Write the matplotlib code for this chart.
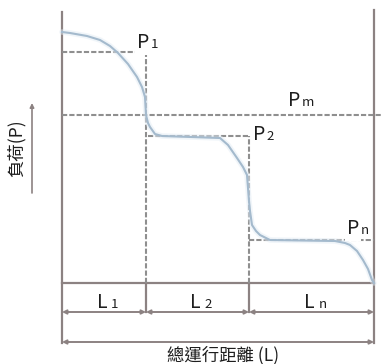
import numpy as np
import matplotlib.pyplot as plt

plt.rcParams['font.family'] = ['Noto Sans CJK TC', 'DejaVu Sans']

# boundaries of the travel segments along the total distance
edges = [0, 84, 187, 312]
seg_labels = [('L', '1'), ('L', '2'), ('L', 'n')]

# step loads of each segment and the mean load
loads = [231, 147, 43]
load_labels = [('P', '1'), ('P', '2'), ('P', 'n')]
p_mean = 168

curve_x = [0, 8, 25, 38, 48, 56, 66, 75, 80, 83, 84, 86, 88, 93, 100,
           158, 166, 175, 181, 185, 186, 187, 188, 190, 194, 198, 208,
           273, 283, 288, 295, 301, 306, 310, 312]
curve_y = [251, 250, 247, 243, 237, 230, 219, 206, 196, 186, 168, 160, 156, 149, 147,
           145, 138, 125, 116, 108, 95, 82, 72, 58, 52, 48, 43,
           42, 40, 38, 32, 23, 14, 3, 0]

line_col = '#8c8282'
dash_col = '#8f8f8f'
curve_col = '#a4bacd'
text_col = '#1e1e1e'

fig = plt.figure(figsize=(3.81, 3.64), dpi=100)
ax = fig.add_axes([0, 0, 1, 1])
ax.set_xlim(-62, 319)
ax.set_ylim(-81, 283)
ax.axis('off')

top = 271
dim1 = -29
dim2 = -59

# frame lines
ax.plot([edges[0], edges[0]], [dim2 - 1, top], color=line_col, lw=1.6)
ax.plot([edges[-1], edges[-1]], [dim2 - 1, top + 2], color=line_col, lw=1.6)
ax.plot([edges[0], edges[-1]], [0, 0], color=line_col, lw=1.6)
for e in edges[1:-1]:
    ax.plot([e, e], [0, dim1], color=line_col, lw=1.6)

# dimension arrows
for a, b in zip(edges[:-1], edges[1:]):
    ax.annotate('', xy=(b, dim1), xytext=(a, dim1),
                arrowprops=dict(arrowstyle='<|-|>', color=line_col, lw=1.4,
                                mutation_scale=6, shrinkA=0, shrinkB=0))
ax.annotate('', xy=(edges[-1], dim2), xytext=(edges[0], dim2),
            arrowprops=dict(arrowstyle='<|-|>', color=line_col, lw=1.4,
                            mutation_scale=6, shrinkA=0, shrinkB=0))

# dashed step loads
dash = dict(color=dash_col, lw=1.5, dashes=(2.5, 1))
ax.plot([edges[0], edges[1]], [loads[0], loads[0]], **dash)
ax.plot([edges[1], edges[1]], [0, loads[0]], **dash)
ax.plot([edges[1] + 2, edges[2]], [loads[1], loads[1]], **dash)
ax.plot([edges[2], edges[2]], [0, loads[1]], **dash)
ax.plot([edges[2], edges[3]], [loads[2], loads[2]], **dash)
ax.plot([edges[0], 319], [p_mean, p_mean], **dash)

# actual load curve
ax.plot(curve_x, curve_y, color='#e2ecf5', lw=4, alpha=0.5, solid_capstyle='round')
ax.plot(curve_x, curve_y, color=curve_col, lw=1.5)


def sub_label(x, y, main, sub, box=False):
    # letter plus a small index sitting on the baseline
    bb = dict(facecolor='white', edgecolor='none', pad=1.2) if box else None
    ax.text(x, y, main, fontsize=14, ha='left', va='baseline', color=text_col,
            bbox=bb, zorder=5)
    ax.annotate(sub, (x, y), xytext=(10, 0), textcoords='offset points',
                fontsize=9.5, ha='left', va='baseline', color=text_col, bbox=bb,
                zorder=4)


p_pos = [(edges[1] - 9, loads[0] + 4), (edges[2] + 4, loads[1] - 4),
         (edges[3] - 27, loads[2] + 6)]
for (m, s), (x, y) in zip(load_labels, p_pos):
    sub_label(x, y, m, s, box=True)
sub_label(226, p_mean + 9, 'P', 'm', box=True)

for (m, s), a, b in zip(seg_labels, edges[:-1], edges[1:]):
    sub_label((a + b) / 2 - 7, -25, m, s)

ax.text(161, -72, '總運行距離 (L)', fontsize=12.5, ha='center', va='center', color=text_col)
ax.text(-46, 135, '負荷(P)', fontsize=12.5, ha='center', va='center', rotation=90,
        color=text_col)
ax.annotate('', xy=(-30, 180), xytext=(-30, 90),
            arrowprops=dict(arrowstyle='-|>', color=line_col, lw=1.2,
                            mutation_scale=6, shrinkA=0, shrinkB=0))

fig.savefig('out.png', dpi=100, facecolor='white')
